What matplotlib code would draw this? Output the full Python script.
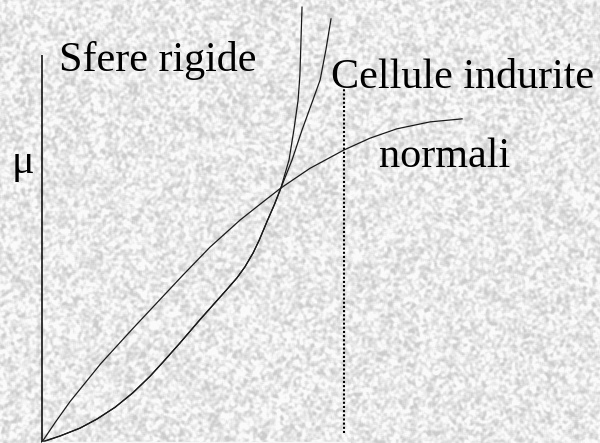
import numpy as np
import matplotlib
matplotlib.use("Agg")
import matplotlib.pyplot as plt

plt.rcParams["font.family"] = "serif"
plt.rcParams["font.serif"] = ["Liberation Serif", "Times New Roman", "DejaVu Serif"]

# concentration on x (dotted limit at 100), viscosity mu on y
normali_x = [0, 4.6, 9.3, 19.5, 30.1, 39.1, 46.7, 55.6, 65.6, 72.8, 79.1, 88.7, 100.0, 108.6, 117.5, 128.5, 139.1]
normali_y = [0, 6.8, 13.4, 26.0, 37.6, 47.2, 55.3, 64.5, 73.5, 79.2, 84.1, 90.6, 96.7, 100.6, 103.7, 106.0, 107.0]

# rigid spheres and hardened cells share the same lower branch
common_x = [0, 6.0, 12.6, 18.2, 24.2, 30.1, 35.8, 40.1, 45.7, 52.3, 61.3, 64.6, 67.2, 69.9, 72.0, 74.5, 76.9, 79.1]
common_y = [0, 2.0, 4.6, 7.6, 11.5, 16.3, 21.8, 26.5, 32.8, 40.5, 50.6, 54.4, 58.0, 62.6, 67.0, 73.0, 78.5, 84.1]

sfere_x = [81.8, 83.4, 84.8, 85.4, 86.1]
sfere_y = [93.4, 103.3, 113.2, 121.5, 144.0]

indurite_x = [82.8, 86.1, 89.7, 92.1, 94.0, 95.7]
indurite_y = [93.4, 103.3, 113.2, 119.9, 129.8, 140.1]

limit_x = 100.0
limit_y = [3.0, 117.2]
axis_top = 128.1
axis_right = 102.0

W, H = 600, 443
fig = plt.figure(figsize=(W / 100, H / 100), dpi=100)

# granite-like backdrop, blurred with wrap-around so the edges stay even
rng = np.random.default_rng(7)
noise = rng.random((H, W))
for _ in range(2):
    noise = sum(np.roll(noise, s, axis=1) for s in range(-1, 2)) / 3
    noise = sum(np.roll(noise, s, axis=0) for s in range(-1, 2)) / 3
noise = (noise - noise.min()) / (noise.max() - noise.min())
gray = 0.80 + 0.18 * np.clip((noise - 0.22) / 0.42, 0, 1)
bg = fig.add_axes([0, 0, 1, 1])
bg.imshow(gray, cmap="gray", vmin=0, vmax=1, aspect="auto", interpolation="bilinear")
bg.axis("off")

ax = fig.add_axes([0, 0, 1, 1])
ax.patch.set_alpha(0)
ax.set_xlim(-42 / 3.02, 558 / 3.02)
ax.set_ylim(-1 / 3.02, 442 / 3.02)
ax.axis("off")

lw = 0.9
ax.plot(normali_x, normali_y, color="#1a1a1a", lw=lw)
ax.plot(common_x + sfere_x, common_y + sfere_y, color="#1a1a1a", lw=lw)
ax.plot(common_x + indurite_x, common_y + indurite_y, color="#1a1a1a", lw=lw)

ax.plot([0, 0], [0, axis_top], color="black", lw=1.1, solid_capstyle="butt")
ax.plot([0, axis_right], [0, 0], color="#f6f6f6", lw=1.0)
ax.plot([limit_x, limit_x], limit_y, color="black", lw=1.5, linestyle=(0, (1, 1)))

font = dict(size=30.3, color="black", va="baseline")
fig.text(59 / W, 1 - 71 / H, "Sfere rigide", **font)
fig.text(331 / W, 1 - 88 / H, "Cellule indurite", **font)
fig.text(379 / W, 1 - 167 / H, "normali", **font)
fig.text(12 / W, 1 - 173 / H, "μ", **font)

fig.savefig("out.png", dpi=100)
